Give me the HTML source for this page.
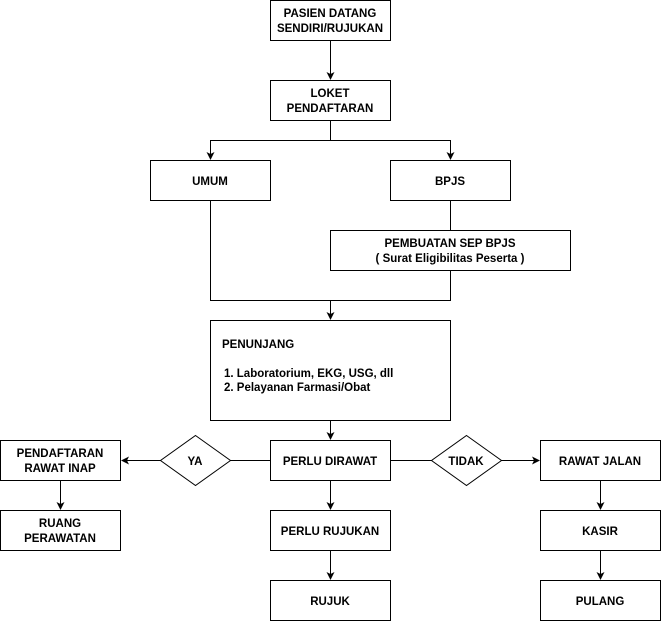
<!DOCTYPE html>
<html><head><meta charset="utf-8"><style>
body{margin:0;background:#fff;}
svg text{font-family:"Liberation Sans",Arial,sans-serif;font-size:11.5px;font-weight:bold;fill:#000;}
</style></head><body>
<svg width="662" height="621" viewBox="0 0 662 621" xmlns="http://www.w3.org/2000/svg">
<defs><marker id="a" markerWidth="8" markerHeight="8" refX="7" refY="4" orient="auto" markerUnits="userSpaceOnUse"><path d="M0,0 L8,4 L0,8 L2,4 z" fill="#000"/></marker></defs>
<g fill="#fff" stroke="#000" stroke-width="1">
<rect x="270.5" y="0.5" width="120" height="40"/>
<rect x="270.5" y="80.5" width="120" height="40"/>
<rect x="150.5" y="160.5" width="120" height="40"/>
<rect x="390.5" y="160.5" width="120" height="40"/>
<rect x="330.5" y="230.5" width="240" height="40"/>
<rect x="210.5" y="320.5" width="240" height="100"/>
<rect x="0.5" y="440.5" width="120" height="40"/>
<rect x="0.5" y="510.5" width="120" height="40"/>
<rect x="270.5" y="440.5" width="120" height="40"/>
<rect x="270.5" y="510.5" width="120" height="40"/>
<rect x="270.5" y="580.5" width="120" height="40"/>
<rect x="540.5" y="440.5" width="120" height="40"/>
<rect x="540.5" y="510.5" width="120" height="40"/>
<rect x="540.5" y="580.5" width="120" height="40"/>
<polygon points="195.5,435.5 230.5,460.5 195.5,485.5 160.5,460.5"/>
<polygon points="466.5,435.5 501.5,460.5 466.5,485.5 431.5,460.5"/>
</g>
<g fill="none" stroke="#000" stroke-width="1">
<path d="M330.5,40.5V79" marker-end="url(#a)"/>
<path d="M330.5,120.5V140.5H210.5V159" marker-end="url(#a)"/>
<path d="M330.5,140.5H450.5V159" marker-end="url(#a)"/>
<path d="M450.5,200.5V230.5"/>
<path d="M210.5,200.5V300.5H450.5V270.5"/>
<path d="M330.5,300.5V319" marker-end="url(#a)"/>
<path d="M330.5,420.5V439" marker-end="url(#a)"/>
<path d="M270.5,460.5H230.5"/>
<path d="M160.5,460.5H122" marker-end="url(#a)"/>
<path d="M390.5,460.5H431.5"/>
<path d="M501.5,460.5H539" marker-end="url(#a)"/>
<path d="M60.5,480.5V509" marker-end="url(#a)"/>
<path d="M330.5,480.5V509" marker-end="url(#a)"/>
<path d="M330.5,550.5V579" marker-end="url(#a)"/>
<path d="M600.5,480.5V509" marker-end="url(#a)"/>
<path d="M600.5,550.5V579" marker-end="url(#a)"/>
</g>
<g text-anchor="middle">
<text x="330" y="17">PASIEN DATANG</text><text x="330" y="32">SENDIRI/RUJUKAN</text>
<text x="330" y="97">LOKET</text><text x="330" y="112">PENDAFTARAN</text>
<text x="210" y="185">UMUM</text>
<text x="450" y="185">BPJS</text>
<text x="450" y="247">PEMBUATAN SEP BPJS</text><text x="450" y="262">( Surat Eligibilitas Peserta )</text>
<text x="60" y="457">PENDAFTARAN</text><text x="60" y="472">RAWAT INAP</text>
<text x="60" y="527">RUANG</text><text x="60" y="542">PERAWATAN</text>
<text x="195" y="465">YA</text>
<text x="466" y="465">TIDAK</text>
<text x="330" y="465">PERLU DIRAWAT</text>
<text x="330" y="535">PERLU RUJUKAN</text>
<text x="330" y="605">RUJUK</text>
<text x="600" y="465">RAWAT JALAN</text>
<text x="600" y="535">KASIR</text>
<text x="600" y="605">PULANG</text>
</g>
<text x="222" y="348">PENUNJANG</text>
<text x="224" y="377">1. Laboratorium, EKG, USG, dll</text>
<text x="224" y="391">2. Pelayanan Farmasi/Obat</text>
</svg>
</body></html>
